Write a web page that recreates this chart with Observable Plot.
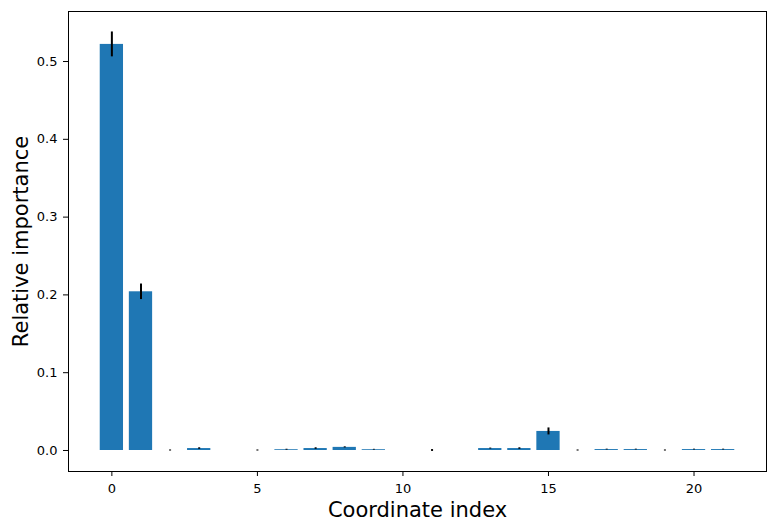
<!DOCTYPE html>
<html><head><meta charset="utf-8">
<script src="https://cdn.jsdelivr.net/npm/d3@7"></script>
<script src="https://cdn.jsdelivr.net/npm/@observablehq/plot@0.6"></script>
<style>html,body{margin:0;padding:0;background:#fff}</style>
</head><body><div id="chart"></div>
<script>
const indices = [0,1,2,3,4,5,6,7,8,9,10,11,12,13,14,15,16,17,18,19,20,21];
const importance = [0.522,0.204,0,0.0025,0,0,0.001,0.0025,0.004,0.001,0,0,0,0.0025,0.0025,0.0245,0,0.0012,0.0012,0,0.0012,0.0012];
const errors = [0.016,0.010,0.0007,0.001,0,0.0007,0.0006,0.001,0.0007,0.0005,0,0.0012,0,0.0006,0.001,0.0045,0.0007,0.0005,0.0005,0.0007,0.0005,0.0005];
const yTicks = [0,0.1,0.2,0.3,0.4,0.5];
const xTicks = [0,5,10,15,20];

const data = indices.map((i,k)=>({i, v: importance[k], e: errors[k]}));

const chart = Plot.plot({
  width: 774, height: 531,
  marginLeft: 68, marginRight: 8, marginTop: 11, marginBottom: 60,
  style: {fontFamily: "'DejaVu Sans'", fontSize: "13px", color: "#000", background: "#fff"},
  x: {domain: [-1.49, 22.49]},
  y: {domain: [-0.027, 0.5643]},
  marks: [
    Plot.rectY(data, {x1: d => d.i - 0.4, x2: d => d.i + 0.4, y1: 0, y2: "v", fill: "#1f77b4"}),
    Plot.ruleX(data.filter(d => d.e > 0), {x: "i", y1: d => d.v - d.e, y2: d => d.v + d.e, stroke: "black", strokeWidth: 2}),
    Plot.frame({stroke: "black", strokeWidth: 1}),
    Plot.axisX(xTicks, {tickSize: 5, tickPadding: 7, label: null, fontSize: 13, stroke: "black"}),
    Plot.axisY(yTicks, {tickSize: 5, tickPadding: 6, tickFormat: ".1f", label: null, fontSize: 13, stroke: "black"}),
    Plot.text(["Coordinate index"], {frameAnchor: "bottom", dy: 39, lineAnchor: "middle", fontSize: 21, fill: "#000"}),
    Plot.text(["Relative importance"], {frameAnchor: "left", dx: -47, rotate: -90, lineAnchor: "middle", textAnchor: "middle", fontSize: 21, fill: "#000"})
  ]
});
document.getElementById("chart").append(chart);
</script>
</body></html>
